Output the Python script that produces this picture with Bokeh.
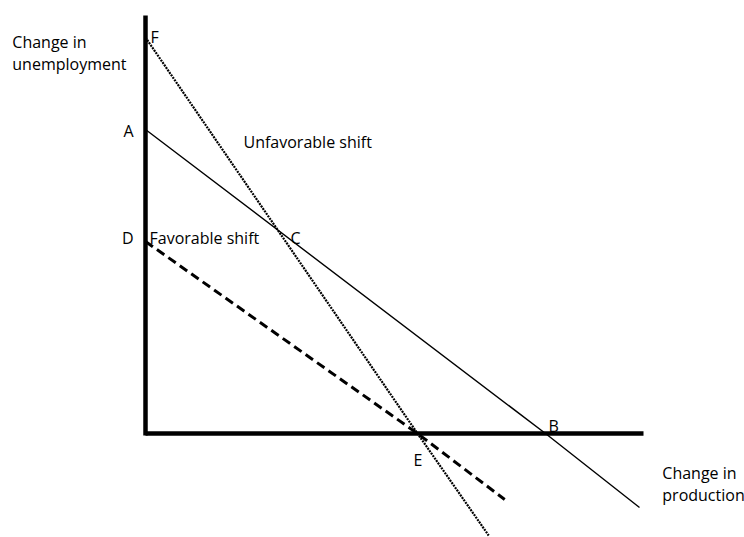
from bokeh.plotting import figure
from bokeh.models import Range1d, ColumnDataSource
from bokeh.core.properties import value
from bokeh.embed import file_html
from bokeh.resources import INLINE

# ---- data (diagram units) ----
# vertical axis (change in unemployment) and horizontal axis (change in production)
yaxis_x = [0.0, 0.0]
yaxis_y = [-0.05, 10.45]
xaxis_x = [0.0, 12.45]
xaxis_y = [0.0, 0.0]

# original trade-off line A - C - B
solid_x = [0.0, 10.0, 12.35]
solid_y = [7.6, 0.0, -1.85]
# unfavorable shift F - C - E
dotted_x = [0.0, 6.8, 8.58]
dotted_y = [9.9, 0.0, -2.55]
# favorable shift D - E
dashed_x = [0.0, 6.8, 8.98]
dashed_y = [4.8, 0.0, -1.65]

# labelled points
point_names = ["A", "B", "C", "D", "E", "F"]
point_x = [0.0, 10.0, 3.4, 0.0, 6.8, 0.0]
point_y = [7.6, 0.0, 5.0, 4.8, 0.0, 9.9]

# other labels
label_text = ["Change in", "unemployment", "Change in", "production",
              "Unfavorable shift", "Favorable shift"]
label_x = [-3.33, -3.33, 12.92, 12.92, 2.45, 0.1]
label_y = [9.8, 9.25, -0.98, -1.53, 7.3, 4.9]

FONT = "Open Sans"
FS = "16px"

W, H = 744, 537
PX = 40.0          # pixels per diagram unit
OX, OY = 145, 433  # pixel position of the origin

p = figure(width=W, height=H, output_backend="svg", toolbar_location=None,
           x_range=Range1d(-OX / PX, (W - OX) / PX),
           y_range=Range1d(-(H - OY) / PX, OY / PX),
           min_border=0, outline_line_color=None)
p.axis.visible = False
p.grid.visible = False
p.background_fill_color = "white"
p.border_fill_color = "white"

# axes as thick black lines
p.line(yaxis_x, yaxis_y, line_color="black", line_width=4.5)
p.line(xaxis_x, xaxis_y, line_color="black", line_width=4.5)

# curves
p.line(solid_x, solid_y, line_color="black", line_width=1.4)
p.line(dotted_x, dotted_y, line_color="black", line_width=2.2, line_dash="2 1")
p.line(dashed_x, dashed_y, line_color="black", line_width=3, line_dash="9 5")

# point letters with small screen offsets
off_x = {"A": -12, "B": 3, "C": 9, "D": -12, "E": -4, "F": 5}
off_y = {"A": 1, "B": -8, "C": 4, "D": -4, "E": 26, "F": -1}
align = {"A": "right", "B": "left", "C": "left", "D": "right", "E": "left", "F": "left"}
psrc = ColumnDataSource(dict(
    x=point_x, y=point_y, text=point_names,
    xo=[off_x[n] for n in point_names],
    yo=[off_y[n] for n in point_names],
    al=[align[n] for n in point_names],
))
p.text(x="x", y="y", text="text", x_offset="xo", y_offset="yo", text_align="al",
       text_baseline="alphabetic", text_font=value(FONT), text_font_size=FS,
       text_color="black", source=psrc)

lsrc = ColumnDataSource(dict(x=label_x, y=label_y, text=label_text))
p.text(x="x", y="y", text="text", text_align="left", text_baseline="alphabetic",
       text_font=value(FONT), text_font_size=FS, text_color="black", source=lsrc)

open("out.html", "w").write(file_html(p, INLINE))
